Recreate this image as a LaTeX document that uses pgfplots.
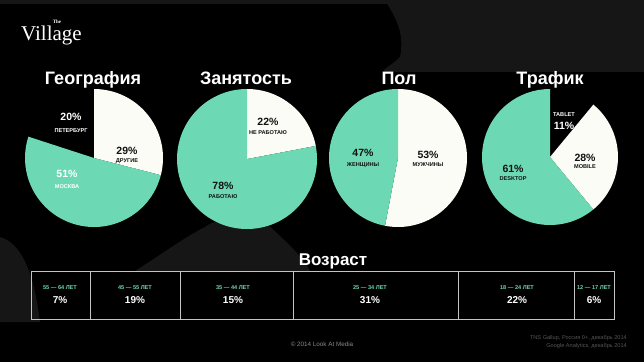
\documentclass[border=0pt]{standalone}
\usepackage{pgfplots}
\pgfplotsset{compat=1.18}
\usepackage{fontspec}
\setmainfont{Liberation Sans}
\newfontfamily\logofont{Liberation Serif}
\definecolor{mint}{HTML}{6DD9B4}
\definecolor{offwhite}{HTML}{FBFCF6}
\definecolor{linegray}{HTML}{C4C4C4}
\definecolor{foot}{HTML}{8A8A8A}
\definecolor{footdark}{HTML}{555555}
\definecolor{darktext}{HTML}{111111}
\definecolor{rock}{HTML}{161616}

% slice: cx, cy, radius, cumulative percent before, percent, colour
\newcommand{\slice}[6]{%
  \fill[#6] (axis cs:#1,#2) -- ++({90-3.6*(#4)}:#3pt)
    arc[start angle={90-3.6*(#4)}, end angle={90-3.6*(#4+#5)}, radius=#3pt] -- cycle;}

\newcommand{\tfont}{\bfseries\fontsize{18}{18}\selectfont}
\newcommand{\pfont}{\bfseries\fontsize{10.5}{11}\selectfont}
\newcommand{\sfont}{\bfseries\fontsize{5.6}{6}\selectfont}

\begin{document}
\begin{tikzpicture}
\begin{axis}[
  scale only axis, width=644pt, height=362pt,
  xmin=0, xmax=644, ymin=0, ymax=362,
  hide axis, clip=false,
]
% background
\fill[black] (axis cs:0,0) rectangle (axis cs:644,362);
\fill[rock] (axis cs:385,362) .. controls (axis cs:395,345) and (axis cs:405,330) .. (axis cs:400,305) .. controls (axis cs:390,295) and (axis cs:380,292) .. (axis cs:385,290) -- (axis cs:644,290) -- (axis cs:644,362) -- cycle;
\fill[rock] (axis cs:0,362) rectangle (axis cs:644,358);
\fill[rock] (axis cs:0,125) .. controls (axis cs:25,118) and (axis cs:35,80) .. (axis cs:40,40) -- (axis cs:0,40) -- cycle;
\fill[rock] (axis cs:135,91) .. controls (axis cs:165,110) and (axis cs:185,125) .. (axis cs:205,135) .. controls (axis cs:220,148) and (axis cs:235,130) .. (axis cs:255,150) .. controls (axis cs:280,125) and (axis cs:300,110) .. (axis cs:310,91) -- cycle;

% logo
\node[anchor=base west, text=white, inner sep=0pt] at (axis cs:21,321) {\logofont\fontsize{21}{21}\selectfont Village};
\node[text=white, inner sep=0pt] at (axis cs:57,340) {\logofont\bfseries\fontsize{5}{6}\selectfont The};

% titles
\node[text=white, anchor=base] at (axis cs:93,277) {\tfont География};
\node[text=white, anchor=base] at (axis cs:246,277) {\tfont Занятость};
\node[text=white, anchor=base] at (axis cs:399,277) {\tfont Пол};
\node[text=white, anchor=base] at (axis cs:550,277) {\tfont Трафик};

% pie 1: География (Другие 29, Москва 51, Петербург 20)
\slice{94}{204}{69}{0}{29}{offwhite}
\slice{94}{204}{69}{29}{51}{mint}
% pie 2: Занятость (Не работаю 22, Работаю 78)
\slice{247}{203}{70}{0}{22}{offwhite}
\slice{247}{203}{70}{22}{78}{mint}
% pie 3: Пол (Мужчины 53, Женщины 47)
\slice{398}{204}{69}{0}{53}{offwhite}
\slice{398}{204}{69}{53}{47}{mint}
% pie 4: Трафик (Tablet 11, Mobile 28, Desktop 61)
\slice{550}{205}{68}{11}{28}{offwhite}
\slice{550}{205}{68}{39}{61}{mint}

% pie labels
\node[text=white] at (axis cs:71,245) {\pfont 20\%};
\node[text=white] at (axis cs:71,231) {\sfont ПЕТЕРБУРГ};
\node[text=darktext] at (axis cs:127,211) {\pfont 29\%};
\node[text=darktext] at (axis cs:127,201) {\sfont ДРУГИЕ};
\node[text=white] at (axis cs:67,188) {\pfont 51\%};
\node[text=white] at (axis cs:67,175) {\sfont МОСКВА};

\node[text=darktext] at (axis cs:268,240) {\pfont 22\%};
\node[text=darktext] at (axis cs:268,229) {\sfont НЕ РАБОТАЮ};
\node[text=darktext] at (axis cs:223,176) {\pfont 78\%};
\node[text=darktext] at (axis cs:223,165) {\sfont РАБОТАЮ};

\node[text=darktext] at (axis cs:363,209) {\pfont 47\%};
\node[text=darktext] at (axis cs:363,197) {\sfont ЖЕНЩИНЫ};
\node[text=darktext] at (axis cs:428,207) {\pfont 53\%};
\node[text=darktext] at (axis cs:428,197) {\sfont МУЖЧИНЫ};

\node[text=white] at (axis cs:564,247) {\sfont TABLET};
\node[text=white] at (axis cs:564,236) {\pfont 11\%};
\node[text=darktext] at (axis cs:585,204) {\pfont 28\%};
\node[text=darktext] at (axis cs:585,195) {\sfont MOBILE};
\node[text=darktext] at (axis cs:513,193) {\pfont 61\%};
\node[text=darktext] at (axis cs:513,183) {\sfont DESKTOP};

% age
\node[text=white, anchor=base] at (axis cs:333,97) {\bfseries\fontsize{17}{17}\selectfont Возраст};
\draw[linegray, line width=0.8pt] (axis cs:31,43) rectangle (axis cs:614,91);
\draw[linegray, line width=0.8pt] (axis cs:90,43) -- (axis cs:90,91);
\draw[linegray, line width=0.8pt] (axis cs:180,43) -- (axis cs:180,91);
\draw[linegray, line width=0.8pt] (axis cs:293,43) -- (axis cs:293,91);
\draw[linegray, line width=0.8pt] (axis cs:458,43) -- (axis cs:458,91);
\draw[linegray, line width=0.8pt] (axis cs:574,43) -- (axis cs:574,91);

\node[text=mint] at (axis cs:60,74) {\sfont 55 — 64 ЛЕТ};
\node[text=white] at (axis cs:60,62) {\bfseries\fontsize{10}{10}\selectfont 7\%};
\node[text=mint] at (axis cs:135,74) {\sfont 45 — 55 ЛЕТ};
\node[text=white] at (axis cs:135,62) {\bfseries\fontsize{10}{10}\selectfont 19\%};
\node[text=mint] at (axis cs:233,74) {\sfont 35 — 44 ЛЕТ};
\node[text=white] at (axis cs:233,62) {\bfseries\fontsize{10}{10}\selectfont 15\%};
\node[text=mint] at (axis cs:370,74) {\sfont 25 — 34 ЛЕТ};
\node[text=white] at (axis cs:370,62) {\bfseries\fontsize{10}{10}\selectfont 31\%};
\node[text=mint] at (axis cs:517,74) {\sfont 18 — 24 ЛЕТ};
\node[text=white] at (axis cs:517,62) {\bfseries\fontsize{10}{10}\selectfont 22\%};
\node[text=mint] at (axis cs:594,74) {\sfont 12 — 17 ЛЕТ};
\node[text=white] at (axis cs:594,62) {\bfseries\fontsize{10}{10}\selectfont 6\%};

% footer
\node[text=foot] at (axis cs:322,18) {\fontsize{6.3}{7}\selectfont © 2014 Look At Media};
\node[text=footdark, anchor=east, inner sep=0pt] at (axis cs:627,24) {\fontsize{5.6}{6}\selectfont TNS Gallup, Россия 0+, декабрь 2014};
\node[text=footdark, anchor=east, inner sep=0pt] at (axis cs:627,16) {\fontsize{5.6}{6}\selectfont Google Analytics, декабрь 2014};
\end{axis}
\end{tikzpicture}
\end{document}
